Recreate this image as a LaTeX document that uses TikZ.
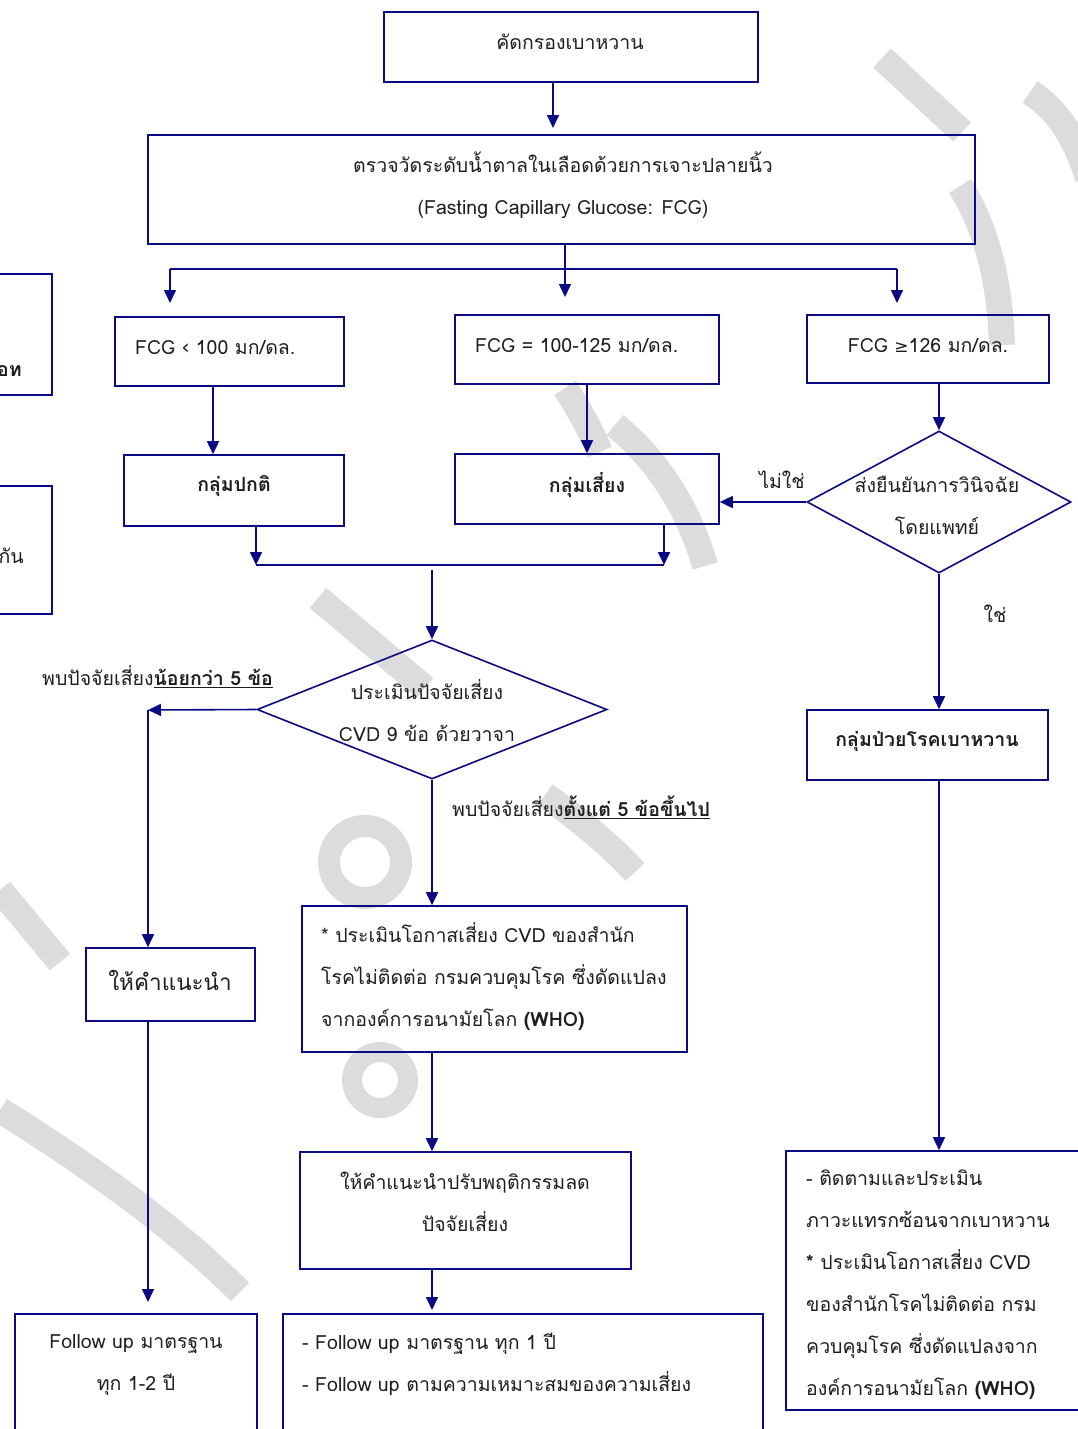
\documentclass[tikz,border=0pt]{standalone}
\usepackage{fontspec}
\setmainfont[Script=Thai]{Loma}
\newfontfamily\symfont{DejaVu Sans}
\usetikzlibrary{arrows.meta,shapes.geometric}
\definecolor{navy}{RGB}{10,10,130}
\definecolor{txt}{RGB}{30,30,30}
\definecolor{wm}{RGB}{220,220,220}
\tikzset{
  box/.style={draw=navy, line width=1.6pt, rectangle, inner sep=0pt, text=txt, font=\fontsize{19.5}{42}\selectfont},
  dia/.style={draw=navy, line width=1.6pt, diamond, inner sep=0pt, text=txt, font=\fontsize{19.5}{42}\selectfont},
  lbl/.style={inner sep=0pt, text=txt, font=\fontsize{19.5}{42}\selectfont},
  conn/.style={draw=navy, line width=1.6pt},
  arr/.style={conn, -{Triangle[length=13pt,width=12pt]}},
  wmstroke/.style={draw=wm, line width=26pt},
}
\begin{document}
\begin{tikzpicture}[x=1pt,y=-1pt]
\clip (0,0) rectangle (1078,1429);
\fill[white] (0,0) rectangle (1078,1429);

% watermark (light grey strokes in the background)
\draw[wmstroke] (882,58) -- (962,132);
\draw[wmstroke] (1030,92) .. controls (1060,112) and (1076,140) .. (1088,178);
\draw[wmstroke] (960,186) .. controls (988,230) and (1000,285) .. (1002,345);
\draw[wmstroke] (565,388) .. controls (580,410) and (590,430) .. (600,452);
\draw[wmstroke] (615,425) .. controls (660,462) and (690,512) .. (705,566);
\draw[wmstroke] (318,598) -- (425,688);
\draw[wmstroke] (545,795) .. controls (580,820) and (610,845) .. (635,872);
\draw[wm, line width=22pt] (365,862) circle[radius=36pt];
\draw[wm, line width=20pt] (380,1080) circle[radius=28pt];
\draw[wmstroke] (0,1110) .. controls (80,1160) and (170,1222) .. (240,1292);
\draw[wmstroke] (0,890) -- (60,962);

% boxes
\node[box, minimum width=374pt, minimum height=70pt, fill=white] (b1) at (571,47) {};
\node[lbl] (b1t) at (570,42) {คัดกรองเบาหวาน};
\node[box, minimum width=827pt, minimum height=109pt] (b2) at (561.5,189.5) {};
\node[lbl, align=center] (b2t) at (563,185) {ตรวจวัดระดับน้ำตาลในเลือดด้วยการเจาะปลายนิ้ว\\(Fasting Capillary Glucose: FCG)};
\node[box, minimum width=229pt, minimum height=69pt] (f1) at (229.5,351.5) {};
\node[lbl, anchor=west] (f1t) at (135,348) {FCG ‹ 100 มก/ดล.};
\node[box, minimum width=264pt, minimum height=69pt] (f2) at (587,349.5) {};
\node[lbl, anchor=west] (f2t) at (475,346) {FCG = 100-125 มก/ดล.};
\node[box, minimum width=242pt, minimum height=68pt] (f3) at (928,349) {};
\node[lbl] (f3t) at (928,346) {FCG {\symfont\fontsize{17}{20}\selectfont ≥}126 มก/ดล.};
\node[box, minimum width=220pt, minimum height=71pt] (g1) at (234,490.5) {};
\node[lbl, font=\fontsize{19.5}{42}\selectfont\bfseries] (g1t) at (234,486) {กลุ่มปกติ};
\node[box, minimum width=264pt, minimum height=70pt] (g2) at (587,489) {};
\node[lbl, font=\fontsize{19.5}{42}\selectfont\bfseries] (g2t) at (587,485) {กลุ่มเสี่ยง};
\node[dia, minimum width=264pt, minimum height=142pt] (d1) at (939,502) {};
\node[lbl, align=center] (d1t) at (937,505) {ส่งยืนยันการวินิจฉัย\\โดยแพทย์};
\node[box, minimum width=241pt, minimum height=70pt] (g3) at (927.5,745) {};
\node[lbl, font=\fontsize{19.5}{42}\selectfont\bfseries] (g3t) at (927,741) {กลุ่มป่วยโรคเบาหวาน};
\node[dia, minimum width=350pt, minimum height=139pt] (d2) at (432,709.5) {};
\node[lbl, align=center] (d2t) at (427,711) {ประเมินปัจจัยเสี่ยง\\CVD 9 ข้อ ด้วยวาจา};
\node[box, minimum width=169pt, minimum height=73pt] (adv) at (170.5,984.5) {};
\node[lbl, font=\fontsize{22.5}{42}\selectfont] (advt) at (170,980) {ให้คำแนะนำ};
\node[box, minimum width=385pt, minimum height=146pt] (cvd) at (494.5,979) {};
\node[lbl, align=left, anchor=west] (cvdt) at (321,977) {* ประเมินโอกาสเสี่ยง CVD ของสำนัก\\โรคไม่ติดต่อ กรมควบคุมโรค ซึ่งดัดแปลง\\จากองค์การอนามัยโลก \textbf{(WHO)}};
\node[box, minimum width=331pt, minimum height=117pt] (beh) at (465.5,1210.5) {};
\node[lbl, align=center] (beht) at (465,1202) {ให้คำแนะนำปรับพฤติกรรมลด\\ปัจจัยเสี่ยง};
\node[box, minimum width=242pt, minimum height=160pt] (fu1) at (136,1394) {};
\node[lbl, align=center] (fu1t) at (136,1365) {Follow up มาตรฐาน\\ทุก 1-2 ปี};
\node[box, minimum width=480pt, minimum height=160pt] (fu2) at (523,1394) {};
\node[lbl, align=left, anchor=west] (fu2t) at (302,1364) {- Follow up มาตรฐาน ทุก 1 ปี\\- Follow up ตามความเหมาะสมของความเสี่ยง};
\node[box, minimum width=310pt, minimum height=259pt] (dm) at (941,1280.5) {};
\node[lbl, align=left, anchor=west] (dmt) at (806,1285) {- ติดตามและประเมิน\\ภาวะแทรกซ้อนจากเบาหวาน\\\textbf{*} ประเมินโอกาสเสี่ยง CVD\\ของสำนักโรคไม่ติดต่อ กรม\\ควบคุมโรค ซึ่งดัดแปลงจาก\\องค์การอนามัยโลก \textbf{(WHO)}};
% cut-off boxes at left
\node[box, minimum width=100pt, minimum height=121pt] (la) at (2,334.5) {};
\node[lbl, anchor=east, font=\fontsize{19.5}{42}\selectfont\bfseries] (lat) at (22,371) {อท};
\node[box, minimum width=100pt, minimum height=128pt] (lb) at (2,550) {};
\node[lbl, anchor=east] (lbt) at (24,556) {กัน};

% labels
\node[lbl] (no) at (782,480) {ไม่ใช่};
\node[lbl] (yes) at (995,614) {ใช่};
\node[lbl, anchor=west] (few) at (42,677) {พบปัจจัยเสี่ยง\textbf{\underline{น้อยกว่า 5 ข้อ}}};
\node[lbl, anchor=west] (many) at (452,807) {พบปัจจัยเสี่ยง\textbf{\underline{ตั้งแต่ 5 ข้อขึ้นไป}}};

% coordinates
\coordinate (s1) at (565,269);
\coordinate (hl) at (170,269);
\coordinate (hr) at (897,269);
\coordinate (j1) at (256,565);
\coordinate (j2) at (664,565);
\coordinate (jm) at (432,570);
\coordinate (lt) at (148,710);

% connectors
\draw[arr] (b1.south -| 553,0) -- (553,128);
\draw[conn] (b2.south -| s1) -- (s1);
\draw[arr] (s1) -- (565,297);
\draw[conn] (hl) -- (hr);
\draw[arr] (hl) -- (170,303);
\draw[arr] (hr) -- (897,303);
\draw[arr] (f1.south -| 213,0) -- (g1.north -| 213,0);
\draw[arr] (f2.south) -- (g2.north);
\draw[arr] (f3.south -| 939,0) -- (d1.north);
\draw[arr] (d1.west) -- (g2.east |- d1.west);
\draw[arr] (d1.south) -- (g3.north -| d1.south);
\draw[arr] (g1.south -| j1) -- (j1);
\draw[arr] (g2.south -| j2) -- (j2);
\draw[conn] (j1) -- (j2);
\draw[arr] (jm) -- (d2.north);
\draw[arr] (d2.west) -- (lt);
\draw[arr] (lt) -- (adv.north -| lt);
\draw[arr] (d2.south) -- (cvd.north -| d2.south);
\draw[arr] (adv.south -| lt) -- (148,1302);
\draw[arr] (cvd.south -| 432,0) -- (beh.north -| 432,0);
\draw[arr] (beh.south -| 432,0) -- (432,1310);
\draw[arr] (g3.south -| 939,0) -- (dm.north -| 939,0);
\end{tikzpicture}
\end{document}
